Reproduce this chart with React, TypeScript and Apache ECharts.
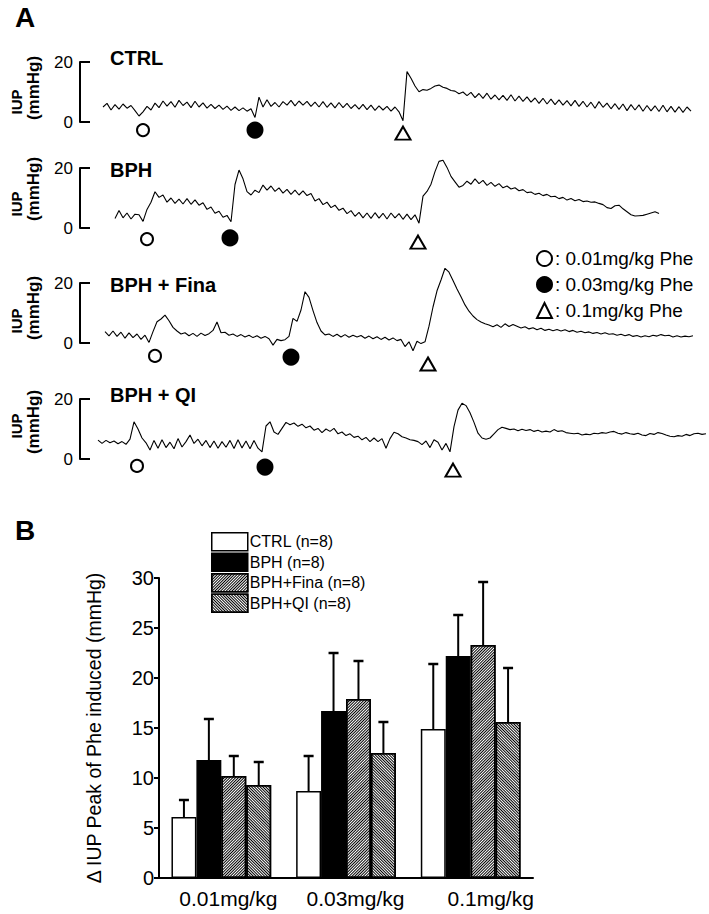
import React, { useEffect, useRef } from "react";
import * as echarts from "echarts";

const FONT = '"Liberation Sans", Arial, Helvetica, sans-serif';

// ---------- Panel A: IUP traces (mmHg), sampled every 4 time units ----------
const panelNames = ["CTRL", "BPH", "BPH + Fina", "BPH + QI"];
const traceStart = [103, 115, 105, 98];
const sampleStep = 4;
const ctrlTrace = [
  5.0, 6.2, 4.0, 5.8, 4.3, 6.0, 4.6, 5.5, 3.8, 2.0,
  3.4, 5.2, 4.0, 6.3, 4.8, 7.0, 5.3, 6.8, 4.9, 7.2,
  5.5, 6.6, 4.8, 6.9, 5.0, 6.4, 4.6, 5.9, 4.5, 5.6,
  4.2, 5.3, 3.9, 5.0, 3.8, 4.7, 3.6, 4.4, 1.5, 8.3,
  5.0, 7.4, 5.2, 6.5, 5.0, 6.8, 5.6, 7.2, 5.4, 7.0,
  5.6, 6.9, 5.2, 6.6, 5.0, 6.8, 4.9, 6.4, 4.7, 6.5,
  4.8, 6.2, 4.5, 5.8, 4.3, 5.9, 4.1, 5.6, 3.9, 5.4,
  4.0, 5.2, 3.6, 5.0, 3.4, 0.4, 16.8, 14.6, 12.0, 10.1,
  10.8, 10.6, 11.2, 12.0, 12.3, 11.6, 11.2, 10.5, 10.3, 9.4,
  10.0, 8.8, 9.9, 8.1, 9.5, 7.9, 9.6, 7.6, 9.0, 7.4,
  8.9, 7.2, 9.1, 7.0, 8.6, 6.9, 8.4, 6.6, 8.0, 6.2,
  7.9, 6.0, 7.6, 5.8, 7.4, 5.6, 7.1, 5.4, 7.2, 5.2,
  6.9, 5.0, 6.6, 4.6, 6.8, 4.9, 6.3, 4.4, 6.1, 4.2,
  6.0, 3.8, 5.8, 4.0, 5.7, 3.6, 5.5, 3.7, 5.4, 3.5,
  5.6, 3.4, 5.2, 3.3, 5.1, 3.2, 5.0, 3.6,
];
const bphTrace = [
  3.2, 5.8, 3.4, 5.0, 3.0, 4.6, 4.4, 2.2, 6.2, 8.6,
  12.1, 10.2, 11.0, 8.6, 10.0, 8.2, 9.6, 8.0, 9.8, 7.9,
  9.4, 7.6, 8.4, 6.2, 7.0, 4.9, 5.6, 3.6, 4.2, 2.1,
  14.5, 19.3, 16.4, 12.1, 11.0, 12.6, 11.8, 14.3, 12.6, 14.0,
  12.2, 13.4, 11.6, 12.9, 11.2, 12.6, 11.0, 12.4, 10.8, 11.5,
  9.0, 9.8, 7.8, 8.6, 6.8, 7.6, 5.9, 6.6, 4.8, 5.8,
  3.9, 5.2, 3.4, 5.0, 3.2, 5.1, 3.3, 4.9, 3.0, 5.0,
  3.4, 4.8, 2.9, 4.6, 2.8, 4.4, 1.6, 10.6, 12.2, 14.6,
  18.8, 22.2, 22.6, 20.2, 17.2, 15.4, 13.6, 14.2, 15.6, 14.6,
  16.4, 14.8, 15.9, 14.2, 15.2, 13.9, 14.8, 13.4, 14.0, 13.0,
  13.4, 12.4, 12.8, 11.8, 12.0, 11.2, 11.6, 10.8, 11.2, 10.4,
  10.6, 9.8, 10.2, 9.3, 9.8, 9.1, 9.5, 8.8, 9.0, 8.6,
  8.7, 8.2, 7.8, 6.8, 6.5, 7.4, 7.6, 6.4, 5.4, 4.4,
  4.0, 4.1, 4.2, 4.6, 5.0, 5.4, 4.8,
];
const finaTrace = [
  3.8, 2.4, 4.0, 2.2, 3.6, 1.6, 3.4, 1.8, 3.0, 1.2,
  2.6, 0.2, 3.8, 7.1, 8.0, 9.3, 7.4, 5.2, 4.0, 3.0,
  3.4, 2.4, 3.2, 2.2, 3.3, 2.5, 3.1, 4.2, 7.0, 3.4,
  3.6, 2.6, 3.0, 2.2, 2.8, 2.0, 2.6, 1.8, 2.4, 1.6,
  2.2, 1.4, -0.7, 1.2, 0.8, 1.1, 2.2, 8.2, 7.2, 11.0,
  17.1, 15.2, 10.8, 6.8, 4.0, 2.7, 3.0, 2.2, 2.9, 2.0,
  2.8, 1.9, 2.6, 2.0, 2.5, 1.6, 2.3, 1.4, 2.1, 1.2,
  1.9, 1.0, 1.7, 0.8, 1.2, -1.2, 0.4, -2.6, 0.6, -0.2,
  0.4, 5.6, 12.0, 17.4, 21.0, 24.9, 23.6, 20.8, 18.0, 15.4,
  12.7, 10.6, 9.0, 7.8, 7.0, 6.4, 6.0, 5.4, 6.1, 5.2,
  6.4, 5.5, 6.2, 5.6, 5.0, 5.4, 4.7, 5.1, 4.4, 4.9,
  4.2, 4.6, 4.1, 4.5, 4.0, 4.4, 3.8, 4.2, 3.6, 3.9,
  3.4, 3.7, 3.2, 3.5, 3.0, 3.4, 2.9, 3.1, 2.6, 2.9,
  2.4, 2.8, 2.2, 2.5, 2.0, 2.4, 2.1, 2.6, 2.3, 2.8,
  2.4, 2.6, 2.0, 2.4, 2.0, 2.3, 2.1, 2.4,
];
const qiTrace = [
  6.3, 5.2, 6.2, 5.4, 6.0, 5.1, 5.8, 4.9, 6.6, 12.4,
  10.0, 7.0, 5.4, 3.0, 6.2, 3.6, 6.4, 3.8, 5.6, 3.4,
  6.8, 4.0, 5.8, 8.0, 5.2, 6.6, 4.4, 6.2, 3.8, 6.0,
  3.6, 5.8, 3.9, 6.2, 3.5, 6.4, 3.7, 6.0, 3.4, 6.2,
  3.6, 2.4, 11.0, 12.4, 9.0, 8.2, 10.2, 12.2, 11.4, 12.0,
  10.9, 11.6, 10.4, 11.0, 9.6, 10.2, 8.8, 10.0, 9.2, 10.2,
  8.4, 9.0, 7.8, 8.4, 7.2, 7.6, 6.4, 7.2, 5.8, 7.0,
  5.8, 6.8, 3.6, 6.8, 8.9, 8.4, 7.4, 7.0, 6.4, 6.2,
  5.8, 4.8, 6.0, 3.8, 6.4, 5.6, 3.0, 5.2, 2.4, 10.8,
  16.3, 18.6, 17.8, 15.4, 12.2, 8.6, 7.0, 6.6, 7.0, 8.4,
  9.8, 10.6, 10.2, 9.8, 10.0, 9.4, 9.9, 9.5, 9.8, 9.2,
  9.6, 9.0, 9.3, 9.0, 9.8, 9.2, 9.4, 8.8, 8.6, 8.4,
  8.6, 8.0, 8.3, 8.1, 8.6, 8.4, 8.8, 8.6, 9.0, 9.2,
  8.6, 8.3, 8.8, 8.4, 8.2, 8.6, 8.0, 7.8, 8.5, 8.2,
  8.8, 8.5, 8.0, 7.6, 7.4, 7.8, 7.6, 8.2, 7.8, 8.4,
  8.6, 8.2, 8.4,
];
const traces = [ctrlTrace, bphTrace, finaTrace, qiTrace];

const doseNames = ["0.01mg/kg Phe", "0.03mg/kg Phe", "0.1mg/kg Phe"];
const injectionTimes = [
  [143, 255, 403],
  [147, 230, 418],
  [155, 291, 428],
  [137, 265, 453],
];
const markerLevels = [
  [-2.7, -2.7, -3.7],
  [-3.7, -3.3, -4.7],
  [-4.3, -4.7, -7.0],
  [-2.3, -2.7, -3.7],
];
const scaleTicks = [0, 20];

// ---------- Panel B: bar chart ----------
const doseCategories = ["0.01mg/kg", "0.03mg/kg", "0.1mg/kg"];
const groupNames = ["CTRL (n=8)", "BPH (n=8)", "BPH+Fina (n=8)", "BPH+QI (n=8)"];
const ctrlMean = [6.1, 8.7, 14.9];
const ctrlSem = [1.7, 3.5, 6.5];
const bphMean = [11.8, 16.7, 22.2];
const bphSem = [4.1, 5.8, 4.1];
const finaMean = [10.2, 17.9, 23.3];
const finaSem = [2.0, 3.8, 6.3];
const qiMean = [9.3, 12.5, 15.6];
const qiSem = [2.3, 3.1, 5.4];
const barMeans = [ctrlMean, bphMean, finaMean, qiMean];
const barSems = [ctrlSem, bphSem, finaSem, qiSem];
const yName = "Δ IUP Peak of Phe induced (mmHg)";

// ---------- layout (pixels) ----------
const zeroPx = [122, 228, 343, 459];
const PX_PER_MMHG = 3;
const titleY = [58, 170, 285, 395];
const iupY = [102, 204, 321, 426];
const mmhgY = [88, 189, 308, 422];

function hatch(rotation: number) {
  return {
    symbol: "rect",
    symbolSize: 1,
    color: "#000",
    backgroundColor: "#fff",
    dashArrayX: [1, 0],
    dashArrayY: [1, 1],
    rotation,
  };
}

function buildOption() {
  const grid: any[] = [];
  const xAxis: any[] = [];
  const yAxis: any[] = [];
  const series: any[] = [];
  const graphic: any[] = [];

  for (let p = 0; p < 4; p++) {
    grid.push({ left: 0, width: 709, top: zeroPx[p] - 30 * PX_PER_MMHG, height: 40 * PX_PER_MMHG });
    xAxis.push({ type: "value", gridIndex: p, min: 0, max: 709, show: false });
    yAxis.push({ type: "value", gridIndex: p, min: -10, max: 30, show: false });
  }
  for (let p = 0; p < 4; p++) {
    grid.push({ left: 80, width: 10, top: zeroPx[p] - 20 * PX_PER_MMHG, height: 20 * PX_PER_MMHG });
    xAxis.push({ type: "value", gridIndex: 4 + p, min: 0, max: 1, show: false });
    yAxis.push({
      type: "value",
      gridIndex: 4 + p,
      min: scaleTicks[0],
      max: scaleTicks[1],
      interval: scaleTicks[1] - scaleTicks[0],
      splitLine: { show: false },
      axisLine: { show: true, lineStyle: { color: "#000", width: 2 } },
      axisTick: { show: true, inside: true, length: 10, lineStyle: { color: "#000", width: 2 } },
      axisLabel: { color: "#000", fontSize: 17, fontFamily: FONT, margin: 7 },
    });
  }
  const catFont = 21;
  grid.push({ left: 159, width: 374, top: 578, height: 300 });
  xAxis.push({
    type: "category",
    gridIndex: 8,
    data: doseCategories,
    axisLine: { lineStyle: { color: "#000", width: 2 } },
    axisTick: { show: false },
    axisLabel: {
      interval: 0,
      hideOverlap: false,
      color: "#000",
      fontSize: catFont,
      fontFamily: FONT,
      margin: 10,
      formatter: (v: string, i: number) => `{c${i}|${v}}`,
      rich: {
        c0: { padding: [0, 0, 0, 14], fontSize: catFont, fontFamily: FONT, color: "#000" },
        c1: { padding: [0, 0, 0, 19], fontSize: catFont, fontFamily: FONT, color: "#000" },
        c2: { padding: [0, 0, 0, 40], fontSize: catFont, fontFamily: FONT, color: "#000" },
      },
    },
  });
  yAxis.push({
    type: "value",
    gridIndex: 8,
    min: 0,
    max: 30,
    interval: 5,
    name: yName,
    nameLocation: "middle",
    nameRotate: 90,
    nameGap: 55,
    nameTextStyle: { color: "#000", fontSize: 19.5, fontFamily: FONT },
    splitLine: { show: false },
    axisLine: { show: true, lineStyle: { color: "#000", width: 2 } },
    axisTick: { show: true, length: 5, lineStyle: { color: "#000", width: 2 } },
    axisLabel: { color: "#000", fontSize: 20, fontFamily: FONT, margin: 5 },
  });

  traces.forEach((vals, p) => {
    series.push({
      type: "line",
      xAxisIndex: p,
      yAxisIndex: p,
      showSymbol: false,
      symbol: "none",
      silent: true,
      lineStyle: { color: "#000", width: 1.1 },
      data: vals.map((v, i) => [traceStart[p] + i * sampleStep, v]),
    });
  });
  const symbols = ["emptyCircle", "circle", "emptyTriangle"];
  const sizes: any[] = [12, 15, [15, 13]];
  for (let p = 0; p < 4; p++) {
    for (let d = 0; d < 3; d++) {
      series.push({
        type: "scatter",
        name: doseNames[d],
        xAxisIndex: p,
        yAxisIndex: p,
        symbol: symbols[d],
        symbolSize: sizes[d],
        silent: true,
        itemStyle: { color: "#000", borderColor: "#000", borderWidth: 2, opacity: 1 },
        data: [[injectionTimes[p][d], markerLevels[p][d]]],
      });
    }
  }

  const barStyles = [
    { color: "#fff" },
    { color: "#000" },
    { color: "#fff", decal: hatch(-Math.PI / 4) },
    { color: "#fff", decal: hatch(Math.PI / 4) },
  ];
  groupNames.forEach((name, s) => {
    series.push({
      type: "bar",
      name,
      xAxisIndex: 8,
      yAxisIndex: 8,
      barGap: "0%",
      barCategoryGap: "20%",
      silent: true,
      itemStyle: { ...barStyles[s], borderColor: "#000", borderWidth: 1.5 },
      data: barMeans[s],
      z: 2,
    });
  });
  groupNames.forEach((name, s) => {
    series.push({
      type: "custom",
      name: name + " SEM",
      xAxisIndex: 8,
      yAxisIndex: 8,
      silent: true,
      z: 5,
      data: barMeans[s].map((m, i) => [i, m, m + barSems[s][i]]),
      renderItem: (params: any, api: any) => {
        const cat = api.value(0);
        const base = api.coord([cat, api.value(1)]);
        const top = api.coord([cat, api.value(2)]);
        const band = api.size([1, 0])[0];
        const barW = (band * 0.8) / 4;
        const x = base[0] + (s - 1.5) * barW;
        return {
          type: "group",
          children: [
            { type: "line", shape: { x1: x, y1: base[1], x2: x, y2: top[1] }, style: { stroke: "#000", lineWidth: 2 } },
            { type: "line", shape: { x1: x - 5, y1: top[1], x2: x + 5, y2: top[1] }, style: { stroke: "#000", lineWidth: 2.5 } },
          ],
        };
      },
    });
  });

  graphic.push({ type: "text", x: 15, y: 17, style: { text: "A", font: `bold 28px ${FONT}`, fill: "#000", verticalAlign: "middle" } });
  graphic.push({ type: "text", x: 15, y: 530, style: { text: "B", font: `bold 28px ${FONT}`, fill: "#000", verticalAlign: "middle" } });
  panelNames.forEach((n, p) => {
    graphic.push({ type: "text", x: 110, y: titleY[p], style: { text: n, font: `bold 20px ${FONT}`, fill: "#000", verticalAlign: "middle" } });
    graphic.push({ type: "text", x: 16, y: iupY[p], rotation: Math.PI / 2, style: { text: "IUP", font: `bold 15px ${FONT}`, fill: "#000", align: "center", verticalAlign: "middle" } });
    graphic.push({ type: "text", x: 33, y: mmhgY[p], rotation: Math.PI / 2, style: { text: "(mmHg)", font: `bold 17px ${FONT}`, fill: "#000", align: "center", verticalAlign: "middle" } });
  });

  return {
    animation: false,
    backgroundColor: "#fff",
    textStyle: { fontFamily: FONT },
    grid,
    xAxis,
    yAxis,
    series,
    graphic,
    legend: [
      {
        data: groupNames,
        orient: "vertical",
        left: 211,
        top: 532,
        padding: 0,
        itemGap: 1,
        itemWidth: 36,
        itemHeight: 18,
        icon: "rect",
        selectedMode: false,
        itemStyle: { borderColor: "#000", borderWidth: 1.5 },
        textStyle: { color: "#000", fontSize: 16, fontFamily: FONT, padding: [0, 0, 0, -3] },
      },
      {
        data: doseNames,
        orient: "vertical",
        left: 536,
        top: 249,
        padding: 0,
        itemGap: 7,
        itemWidth: 15,
        itemHeight: 15,
        selectedMode: false,
        itemStyle: { color: "#000", borderColor: "#000", borderWidth: 2, opacity: 1 },
        formatter: (name: string) => ": " + name,
        textStyle: { color: "#000", fontSize: 19, fontFamily: FONT, padding: [0, 0, 0, -2] },
      },
    ],
  };
}

export default function App() {
  const ref = useRef<HTMLDivElement>(null);
  useEffect(() => {
    if (!ref.current) return;
    const chart = echarts.init(ref.current, null, { renderer: "svg" });
    chart.setOption(buildOption() as any);
    return () => chart.dispose();
  }, []);
  return (
    <div
      ref={ref}
      style={{ position: "absolute", left: 0, top: 0, width: 709, height: 914, background: "#fff" }}
    />
  );
}
